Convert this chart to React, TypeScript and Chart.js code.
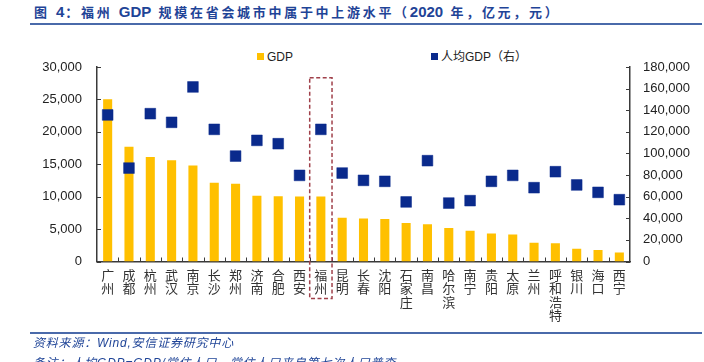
import React, { useEffect, useRef } from "react";
import { Chart, registerables } from "chart.js";

Chart.register(...registerables);

const cities = [
  "广州", "成都", "杭州", "武汉", "南京", "长沙", "郑州", "济南", "合肥", "西安",
  "福州", "昆明", "长春", "沈阳", "石家庄", "南昌", "哈尔滨", "南宁", "贵阳", "太原",
  "兰州", "呼和浩特", "银川", "海口", "西宁",
];
const gdp = [
  25019, 17717, 16106, 15616, 14818, 12143, 12003, 10141, 10046, 10020,
  10020, 6734, 6638, 6572, 5935, 5746, 5184, 4726, 4312, 4153,
  2887, 2800, 1964, 1791, 1373,
];
const gdpPerCapita = [
  135600, 86500, 136800, 128800, 161500, 122300, 97600, 112100, 109000, 79700,
  122300, 81900, 75100, 74200, 55100, 93300, 54100, 56300, 74200, 79700,
  68300, 83100, 70800, 64000, 57200,
];
const leftMax = 30000;
const leftStep = 5000;
const rightMax = 180000;
const rightStep = 20000;
const highlightCity = "福州";
const highlightTopValue = 170000;

const titleText = "图 4：福州 GDP 规模在省会城市中属于中上游水平（2020 年，亿元，元）";
const sourceText = "资料来源：Wind,安信证券研究中心";
const noteText = "备注：人均GDP=GDP/常住人口，常住人口来自第七次人口普查";
const legendGdp = "GDP";
const legendPerCapita = "人均GDP（右）";

const BAR_COLOR = "#FFC000";
const POINT_COLOR = "#0A2A8C";
const AXIS_COLOR = "#3a3a3a";
const BLUE_TEXT = "#1F4497";
const RULE_COLOR = "#4A6AAA";

const fmt = (v: number) => v.toLocaleString("en-US");

const decorPlugin = {
  id: "decor",
  afterDraw(chart: any) {
    const { ctx, chartArea, scales } = chart;
    const x = scales.x;
    const y = scales.y;
    const y1 = scales.y1;
    ctx.save();
    ctx.strokeStyle = AXIS_COLOR;
    ctx.lineWidth = 1;
    const seg = (x0: number, y0: number, x1: number, yy1: number) => {
      ctx.beginPath();
      ctx.moveTo(x0, y0);
      ctx.lineTo(x1, yy1);
      ctx.stroke();
    };
    y.ticks.forEach((_t: any, i: number) => {
      const py = Math.round(y.getPixelForTick(i)) + 0.5;
      seg(chartArea.left, py, chartArea.left + 4, py);
    });
    y1.ticks.forEach((_t: any, i: number) => {
      const py = Math.round(y1.getPixelForTick(i)) + 0.5;
      seg(chartArea.right - 4, py, chartArea.right, py);
    });
    const n = cities.length;
    const cw = x.getPixelForValue(1) - x.getPixelForValue(0);
    for (let i = 1; i < n; i++) {
      const px = Math.round(x.getPixelForValue(i) - cw / 2) + 0.5;
      seg(px, chartArea.bottom - 4, px, chartArea.bottom);
    }
    // highlight dashed box
    const hi = cities.indexOf(highlightCity);
    const cx = x.getPixelForValue(hi);
    const left = cx - cw / 2 - 0.5;
    const right = cx + cw / 2 + 0.5;
    const top = y1.getPixelForValue(highlightTopValue);
    const bottom = chartArea.bottom + 37;
    ctx.strokeStyle = "#A0404A";
    ctx.lineWidth = 1.5;
    ctx.setLineDash([4, 2.5]);
    ctx.strokeRect(left, top, right - left, bottom - top);
    ctx.restore();
  },
};

export default function App() {
  const ref = useRef<HTMLCanvasElement | null>(null);
  useEffect(() => {
    document.body.style.margin = "0";
    const canvas = ref.current;
    if (!canvas) return;
    const chart = new Chart(canvas, {
      type: "bar",
      data: {
        labels: cities.map((c) => c.split("")),
        datasets: [
          {
            type: "line",
            label: legendPerCapita,
            data: gdpPerCapita,
            yAxisID: "y1",
            showLine: false,
            pointStyle: "rect",
            pointRadius: 7.6,
            pointHoverRadius: 7.6,
            backgroundColor: POINT_COLOR,
            borderColor: POINT_COLOR,
            pointBorderWidth: 0.5,
            order: 0,
          } as any,
          {
            type: "bar",
            label: legendGdp,
            data: gdp,
            yAxisID: "y",
            backgroundColor: BAR_COLOR,
            barPercentage: 0.85,
            categoryPercentage: 0.5,
            order: 1,
          },
        ],
      },
      options: {
        responsive: false,
        animation: false,
        devicePixelRatio: 1,
        layout: { padding: { top: 67, left: 0, right: 0, bottom: 0 } },
        plugins: {
          legend: { display: false },
          tooltip: { enabled: false },
          title: { display: false },
        },
        scales: {
          x: {
            offset: true,
            grid: { display: false, drawTicks: false },
            border: { display: true, color: AXIS_COLOR, width: 1.5 },
            ticks: {
              autoSkip: false,
              maxRotation: 0,
              minRotation: 0,
              padding: 6.5,
              color: "#333",
              font: { family: '"Noto Sans CJK SC", sans-serif', size: 13, lineHeight: "13.5px" as any },
            },
            afterFit: (s: any) => {
              s.height = 100.5;
            },
          },
          y: {
            position: "left",
            min: 0,
            max: leftMax,
            grid: { display: false, drawTicks: false },
            border: { display: true, color: AXIS_COLOR, width: 1.5 },
            ticks: {
              stepSize: leftStep,
              padding: 15,
              color: "#222",
              font: { family: '"Liberation Sans", Arial, sans-serif', size: 13 },
              callback: (v: any) => fmt(Number(v)),
            },
            afterFit: (s: any) => {
              s.width = 97;
            },
          },
          y1: {
            position: "right",
            min: 0,
            max: rightMax,
            grid: { display: false, drawTicks: false },
            border: { display: true, color: AXIS_COLOR, width: 1.5 },
            ticks: {
              stepSize: rightStep,
              padding: 13,
              color: "#222",
              font: { family: '"Liberation Sans", Arial, sans-serif', size: 13 },
              callback: (v: any) => fmt(Number(v)),
            },
            afterFit: (s: any) => {
              s.width = 74;
            },
          },
        },
      },
      plugins: [decorPlugin],
    });
    return () => chart.destroy();
  }, []);

  const latinCjk = '"Liberation Sans", "Noto Sans CJK SC", sans-serif';
  const titleParts = titleText.split(/([A-Za-z0-9]+)/).filter((p) => p.length > 0);

  return (
    <div style={{ position: "absolute", left: 0, top: 0, width: 704, height: 362, overflow: "hidden", background: "#fff" }}>
      <div
        style={{
          position: "absolute", left: 34, top: 2, whiteSpace: "nowrap",
          fontFamily: latinCjk, fontWeight: 700, fontSize: 13, letterSpacing: 2.7,
          color: BLUE_TEXT, lineHeight: "20px",
        }}
      >
        {titleParts.map((p, i) =>
          /^[A-Za-z0-9]+$/.test(p) ? (
            <span key={i} style={{ fontSize: 15, letterSpacing: 0, marginRight: 1 }}>{p}</span>
          ) : (
            <span key={i}>{p}</span>
          )
        )}
      </div>
      <div style={{ position: "absolute", left: 30, top: 23, width: 672, height: 2, background: RULE_COLOR }} />

      <div style={{ position: "absolute", left: 257, top: 53, width: 7, height: 7, background: BAR_COLOR }} />
      <div style={{ position: "absolute", left: 267, top: 49, fontFamily: latinCjk, fontSize: 12, lineHeight: "16px", color: "#222", whiteSpace: "nowrap" }}>
        {legendGdp}
      </div>
      <div style={{ position: "absolute", left: 431, top: 53, width: 7, height: 7, background: POINT_COLOR }} />
      <div style={{ position: "absolute", left: 441, top: 49, fontFamily: latinCjk, fontSize: 12, lineHeight: "16px", color: "#222", whiteSpace: "nowrap" }}>
        {legendPerCapita}
      </div>

      <canvas ref={ref} width={704} height={362} style={{ position: "absolute", left: 0, top: 0, width: 704, height: 362 }} />

      <div style={{ position: "absolute", left: 30, top: 332, width: 672, height: 2, background: RULE_COLOR }} />
      <div
        style={{
          position: "absolute", left: 33, top: 335, whiteSpace: "nowrap",
          fontFamily: latinCjk, fontStyle: "italic", fontSize: 12, letterSpacing: 0.8,
          color: BLUE_TEXT, lineHeight: "16px",
        }}
      >
        {sourceText}
      </div>
      <div
        style={{
          position: "absolute", left: 33, top: 355, whiteSpace: "nowrap",
          fontFamily: latinCjk, fontStyle: "italic", fontSize: 12, letterSpacing: 0.8,
          color: BLUE_TEXT, lineHeight: "16px",
        }}
      >
        {noteText}
      </div>
    </div>
  );
}
